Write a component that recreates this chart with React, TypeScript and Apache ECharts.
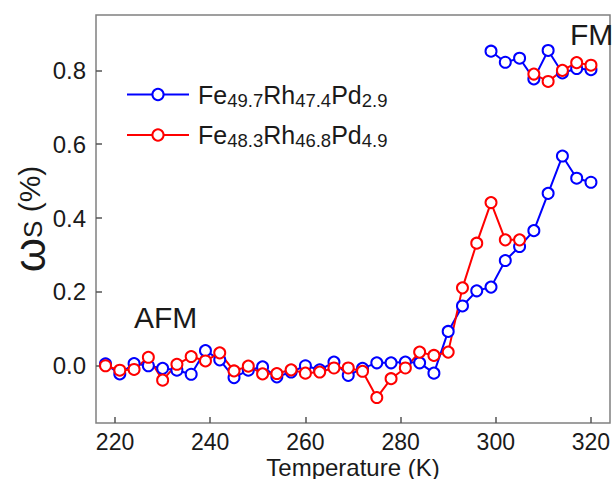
import React, { useEffect, useRef } from "react";
import * as echarts from "echarts";

// Temperature (K) for the low-field branch
const temps = [218, 221, 224, 227, 230, 233, 236, 239, 242, 245, 248, 251, 254, 257, 260, 263, 266, 269, 272, 275, 278, 281, 284, 287, 290, 293, 296, 299, 302, 305, 308, 311, 314, 317, 320];
const blueLow = [0.005, -0.022, 0.006, 0.0, -0.007, -0.012, -0.023, 0.041, 0.016, -0.032, -0.012, -0.003, -0.030, -0.017, 0.0, -0.011, 0.010, -0.026, -0.007, 0.008, 0.008, 0.010, 0.008, -0.020, 0.093, 0.162, 0.203, 0.213, 0.285, 0.323, 0.366, 0.467, 0.568, 0.508, 0.497];
const redTemps = [218, 221, 224, 227, 230, 233, 236, 239, 242, 245, 248, 251, 254, 257, 260, 263, 266, 269, 272, 275, 278, 281, 284, 287, 290, 293, 296, 299, 302, 305];
const redLow = [0.0, -0.012, -0.010, 0.023, -0.039, 0.004, 0.025, 0.013, 0.035, -0.014, -0.001, -0.022, -0.021, -0.011, -0.020, -0.017, -0.006, -0.006, -0.015, -0.086, -0.035, -0.006, 0.037, 0.028, 0.037, 0.211, 0.332, 0.442, 0.341, 0.341];
// FM branch
const blueFmTemps = [299, 302, 305, 308, 311, 314, 317, 320];
const blueFm = [0.852, 0.822, 0.833, 0.777, 0.854, 0.793, 0.805, 0.802];
const redFmTemps = [308, 311, 314, 317, 320];
const redFm = [0.790, 0.770, 0.800, 0.821, 0.814];

const xTicks = [220, 240, 260, 280, 300, 320];
const yTicks = [0, 0.2, 0.4, 0.6, 0.8];

const seriesNames = ["Fe49.7Rh47.4Pd2.9", "Fe48.3Rh46.8Pd4.9"];
const legendParts = [
  [["Fe", "49.7"], ["Rh", "47.4"], ["Pd", "2.9"]],
  [["Fe", "48.3"], ["Rh", "46.8"], ["Pd", "4.9"]],
];
const colors = ["#0000ff", "#ff0000"];

const FONT = "'Liberation Sans', Arial, sans-serif";
const TEXT = "#1a1a1a";

export default function App() {
  const ref = useRef<HTMLDivElement>(null);
  useEffect(() => {
    if (!ref.current) return;
    const chart = echarts.init(ref.current, null, { renderer: "svg" });
    const mk = (name: string, xs: number[], ys: number[], color: string) => ({
      type: "line",
      name,
      data: xs.map((x, i) => [x, ys[i]]),
      symbol: "emptyCircle",
      symbolSize: 11,
      itemStyle: { color, borderWidth: 2 },
      lineStyle: { color, width: 2 },
      z: 3,
    });
    chart.setOption({
      animation: false,
      backgroundColor: "#ffffff",
      grid: {
        left: 96,
        right: 5,
        top: 15,
        bottom: 56,
        outerBoundsMode: "none",
        containLabel: false,
        show: true,
        borderColor: "#808080",
        borderWidth: 1.5,
      },
      legend: {
        data: seriesNames,
        orient: "vertical",
        left: 126,
        top: 82,
        padding: 0,
        itemWidth: 62,
        itemHeight: 14,
        itemGap: 13,
        formatter: (name: string) => {
          const idx = seriesNames.indexOf(name);
          return legendParts[idx].map(([m, s]) => `{m|${m}}{s|${s}}`).join("");
        },
        textStyle: {
          fontFamily: FONT,
          color: TEXT,
          padding: [0, 0, 0, 4],
          rich: {
            m: { fontSize: 25, lineHeight: 30, fontFamily: FONT, color: TEXT },
            s: { fontSize: 18.5, lineHeight: 12, verticalAlign: "bottom", fontFamily: FONT, color: TEXT },
          },
        },
      },
      xAxis: {
        type: "value",
        min: 216,
        max: 324,
        name: "Temperature (K)",
        nameLocation: "middle",
        nameGap: 32,
        nameMoveOverlap: false,
        nameTextStyle: { fontFamily: FONT, fontSize: 24, lineHeight: 24, color: TEXT },
        splitLine: { show: false },
        axisLine: { show: false, onZero: false },
        axisTick: { inside: true, length: 6, customValues: xTicks, lineStyle: { color: "#555", width: 1.5 } },
        axisLabel: { customValues: xTicks, fontFamily: FONT, fontSize: 23, lineHeight: 22, color: TEXT, margin: 8 },
      },
      yAxis: {
        type: "value",
        min: -0.155,
        max: 0.95,
        name: "{w|ω}{s|S}{p| (%)}",
        nameLocation: "middle",
        nameRotate: 90,
        nameGap: 50,
        nameMoveOverlap: false,
        nameTextStyle: {
          fontFamily: FONT,
          color: TEXT,
          rich: {
            w: { fontSize: 44, lineHeight: 34, fontFamily: FONT, color: TEXT },
            s: { fontSize: 26, lineHeight: 16, verticalAlign: "bottom", fontFamily: FONT, color: TEXT },
            p: { fontSize: 30, lineHeight: 34, fontFamily: FONT, color: TEXT },
          },
        },
        splitLine: { show: false },
        axisLine: { show: false, onZero: false },
        axisTick: { inside: true, length: 6, customValues: yTicks, lineStyle: { color: "#555", width: 1.5 } },
        axisLabel: {
          customValues: yTicks,
          formatter: (v: number) => v.toFixed(1),
          fontFamily: FONT,
          fontSize: 24,
          color: TEXT,
          margin: 10,
        },
      },
      graphic: [
        { type: "text", left: 134, top: 302, style: { text: "AFM", font: `30px ${FONT}`, fill: TEXT } },
        { type: "text", left: 570, top: 19, style: { text: "FM", font: `30px ${FONT}`, fill: TEXT } },
      ],
      series: [
        mk(seriesNames[0], temps, blueLow, colors[0]),
        mk(seriesNames[1], redTemps, redLow, colors[1]),
        mk("FM-blue", blueFmTemps, blueFm, colors[0]),
        mk("FM-red", redFmTemps, redFm, colors[1]),
      ],
    });
    return () => chart.dispose();
  }, []);
  return (
    <div
      ref={ref}
      style={{ position: "fixed", left: 0, top: 0, width: 615, height: 479, background: "#fff" }}
    />
  );
}
